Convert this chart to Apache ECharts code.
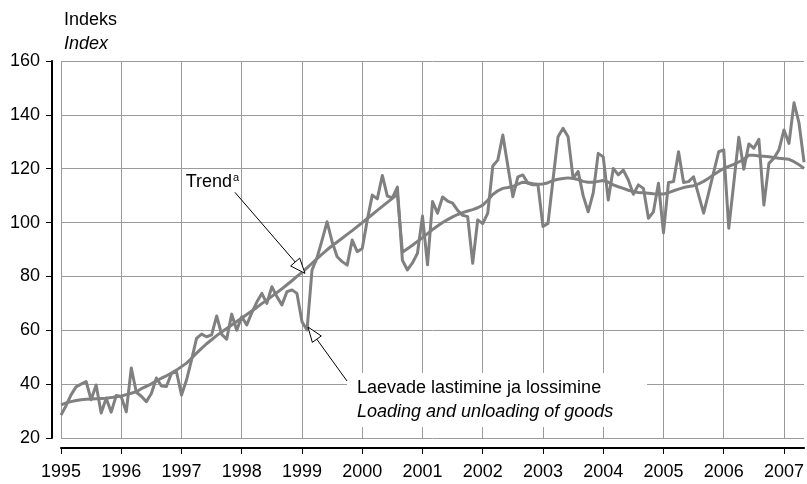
<!DOCTYPE html>
<html>
<head>
<meta charset="utf-8">
<script src="https://cdn.jsdelivr.net/npm/echarts@6/dist/echarts.min.js"></script>
<style>
  html, body { margin: 0; padding: 0; background: #fff; }
  #chart { width: 807px; height: 484px; }
</style>
</head>
<body>
<div id="chart"></div>
<script>
// Year labels along the time axis (monthly data, January 1995 – May 2007)
const yearLabels = ['1995','1996','1997','1998','1999','2000','2001','2002','2003','2004','2005','2006','2007'];
const lastMonthCount = 5; // 2007 runs to May

// Monthly index of ship loading and unloading
const cargoIndex = [
  28.5, 32, 36, 39, 40, 41, 34.2, 39.7, 29.3, 34.8, 29.6, 35.8,            // 1995
  35.3, 29.7, 46, 37, 35.5, 33.5, 36.5, 42.3, 39.3, 39.1, 44, 44.6,        // 1996
  36, 41.5, 49, 57, 58.6, 57.6, 58.3, 65.3, 58.5, 56.7, 66, 60,            // 1997
  65, 62, 66.5, 70.5, 73.7, 70, 76.2, 72.5, 69.4, 74.3, 75, 73.7,          // 1998
  63.2, 60.1, 82.4, 87, 93.5, 100.3, 92.9, 87.3, 85.5, 84.2, 93.5, 89.2,   // 1999
  90.4, 100.9, 110.2, 108.8, 117.5, 109.8, 109.2, 113.2, 86, 82.4, 85, 88.6, // 2000
  102.4, 84.3, 107.8, 103.5, 109.5, 108, 107.2, 104.5, 102.7, 102.2, 84.9, 101, // 2001
  99.6, 103.5, 121, 123.2, 132.5, 121, 109.6, 117, 117.7, 114.6, 114, 114, // 2002
  98.5, 99.7, 116, 131.9, 135, 131.9, 116.4, 119, 110, 104, 110.9, 125.7,  // 2003
  124.4, 108.4, 120.1, 117.7, 119.5, 115.8, 110.5, 114, 112.7, 101.6, 104, 114.6, // 2004
  96.2, 114.9, 115.2, 126.3, 114.9, 115.2, 117, 110.2, 103.5, 111, 118.7, 126.3, // 2005
  127, 97.9, 114.6, 131.7, 119.8, 129.2, 127.6, 130.9, 106.5, 122, 123.9, 127, // 2006
  134.4, 129.4, 144.5, 136.9, 122.4                                        // 2007
];

// Trend component of the same index
const trendIndex = [
  32.3, 33, 33.5, 33.9, 34.2, 34.4, 34.5, 34.6, 34.7, 34.8, 35, 35.3,
  35.6, 36.1, 36.6, 37.2, 38.3, 39.2, 40.1, 41.2, 42.2, 43.1, 44.1, 45.2,
  46.5, 47.8, 49.6, 51.5, 53.3, 55, 56.5, 58, 59.4, 60.7, 62, 63.3,
  64.6, 65.9, 67.2, 68.5, 69.9, 71.2, 72.6, 74, 75.4, 76.9, 78.4, 80,
  81.5, 83.2, 84.9, 86.6, 88.3, 89.9, 91.4, 92.8, 94.2, 95.6, 97, 98.5,
  100, 101.5, 103, 104.5, 106, 107.5, 109, 110.5, 89, 90.3, 91.6, 93,
  94.4, 95.9, 97.4, 98.7, 100, 101.1, 102.1, 103, 103.7, 104.3, 104.8, 105.5,
  106.5, 108.3, 110.4, 111.8, 112.7, 113, 113.4, 114.3, 115, 114.8, 114.4, 114.2,
  114.3, 114.8, 115.6, 116.1, 116.4, 116.6, 116.4, 116, 115.3, 115, 115, 115.3,
  115.6, 115, 114, 113.3, 112.7, 112, 111.5, 111.2, 111.1, 110.9, 110.7, 110.6,
  110.6, 111.1, 111.8, 112.4, 113, 113.4, 113.7, 114.4, 115.3, 116.5, 117.8, 119,
  120.1, 120.9, 121.6, 122.5, 123.5, 125, 125, 124.7, 124.6, 124.4, 124.2, 123.9,
  123.7, 123.5, 122.6, 121.5, 120.1
];

// Value axis ticks
const yMin = 20, yMax = 160, yStep = 20;

// Month categories built from the year labels
const monthLabels = [];
yearLabels.forEach((y, k) => {
  const n = k === yearLabels.length - 1 ? lastMonthCount : 12;
  for (let m = 1; m <= n; m++) monthLabels.push(y + '-' + String(m).padStart(2, '0'));
});

const FONT = '"Liberation Sans", Arial, sans-serif';
const GRID_COLOR = '#9b9b9b';
const LINE_COLOR = '#808080';
const isYearStart = (i) => i % 12 === 0;

const chart = echarts.init(document.getElementById('chart'), null, { renderer: 'canvas' });

chart.setOption({
  animation: false,
  backgroundColor: '#fff',
  textStyle: { fontFamily: FONT },
  grid: { left: 61, right: 0, top: 61, bottom: 46, containLabel: false },
  xAxis: {
    type: 'category',
    data: monthLabels,
    boundaryGap: false,
    offset: 10,
    axisLine: { lineStyle: { color: '#000', width: 2 } },
    axisTick: { interval: isYearStart, length: 6, lineStyle: { color: '#000', width: 1 } },
    axisLabel: {
      interval: isYearStart,
      formatter: (v) => v.slice(0, 4),
      color: '#000', fontSize: 18, fontFamily: FONT, margin: 15
    },
    splitLine: { show: true, interval: isYearStart, lineStyle: { color: GRID_COLOR, width: 1 } }
  },
  yAxis: {
    type: 'value',
    min: yMin, max: yMax, interval: yStep,
    offset: 9,
    axisLine: { show: true, lineStyle: { color: '#000', width: 2 } },
    axisTick: { show: true, length: 6, lineStyle: { color: '#000', width: 1 } },
    axisLabel: { color: '#000', fontSize: 18, fontFamily: FONT, margin: 12 },
    splitLine: { show: true, lineStyle: { color: GRID_COLOR, width: 1 } }
  },
  series: [
    {
      name: 'Laevade lastimine ja lossimine',
      type: 'line',
      data: cargoIndex,
      symbol: 'none',
      lineStyle: { color: LINE_COLOR, width: 3, join: 'round' },
      itemStyle: { color: LINE_COLOR },
      silent: true
    },
    {
      name: 'Trend',
      type: 'line',
      data: trendIndex,
      symbol: 'none',
      lineStyle: { color: LINE_COLOR, width: 3, join: 'round' },
      itemStyle: { color: LINE_COLOR },
      silent: true
    }
  ]
});

// Pointer arrow: thin line ending in an open triangular head
function arrow(tail, tip, L, W) {
  const dx = tip[0] - tail[0], dy = tip[1] - tail[1];
  const len = Math.hypot(dx, dy), ux = dx / len, uy = dy / len;
  const bx = tip[0] - ux * L, by = tip[1] - uy * L;
  return [
    { type: 'line', z: 100, shape: { x1: tail[0], y1: tail[1], x2: bx, y2: by },
      style: { stroke: '#000', lineWidth: 1 } },
    { type: 'polygon', z: 101,
      shape: { points: [tip, [bx - uy * W, by + ux * W], [bx + uy * W, by - ux * W]] },
      style: { fill: '#fff', stroke: '#000', lineWidth: 1 } }
  ];
}

// Anchor the callouts on the data they describe
const toPx = (i, v) => chart.convertToPixel({ gridIndex: 0 }, [i, v]);
const trendAnchor = toPx(48, trendIndex[48]);
const trendTip = [trendAnchor[0] + 3, trendAnchor[1] + 1];
const cargoAnchor = toPx(49, cargoIndex[49]);
const cargoTip = [cargoAnchor[0] + 1, cargoAnchor[1] - 3];

const trendTail = [trendTip[0] - 70, trendTip[1] - 81];
const cargoTail = [cargoTip[0] + 39, cargoTip[1] + 54];

const graphics = [
  { type: 'text', left: 64, top: 11,
    style: { text: 'Indeks', font: '18px ' + FONT, fill: '#000' } },
  { type: 'text', left: 64, top: 35,
    style: { text: 'Index', font: 'italic 18px ' + FONT, fill: '#000' } },
  // callout box for the series label
  { type: 'rect', z: 99, shape: { x: cargoTail[0], y: cargoTail[1] - 8, width: 300, height: 54 },
    style: { fill: '#fff' } },
  { type: 'text', z: 102, x: cargoTail[0] + 10, y: cargoTail[1] + 7,
    style: { text: 'Laevade lastimine ja lossimine', font: '18px ' + FONT, fill: '#000',
             verticalAlign: 'middle' } },
  { type: 'text', z: 102, x: cargoTail[0] + 10, y: cargoTail[1] + 31,
    style: { text: 'Loading and unloading of goods', font: 'italic 18px ' + FONT, fill: '#000',
             verticalAlign: 'middle' } },
  // trend label with superscript note mark
  { type: 'text', z: 102, x: trendTail[0] - 3, y: trendTail[1] - 10,
    style: { text: 'Trend', font: '18px ' + FONT, fill: '#000',
             align: 'right', verticalAlign: 'middle' } },
  { type: 'text', z: 102, x: trendTail[0] - 2, y: trendTail[1] - 14,
    style: { text: 'a', font: '11px ' + FONT, fill: '#000',
             align: 'left', verticalAlign: 'middle' } }
].concat(arrow(trendTail, trendTip, 15, 6), arrow(cargoTail, cargoTip, 15, 5.5));

chart.setOption({ graphic: graphics });
</script>
</body>
</html>
